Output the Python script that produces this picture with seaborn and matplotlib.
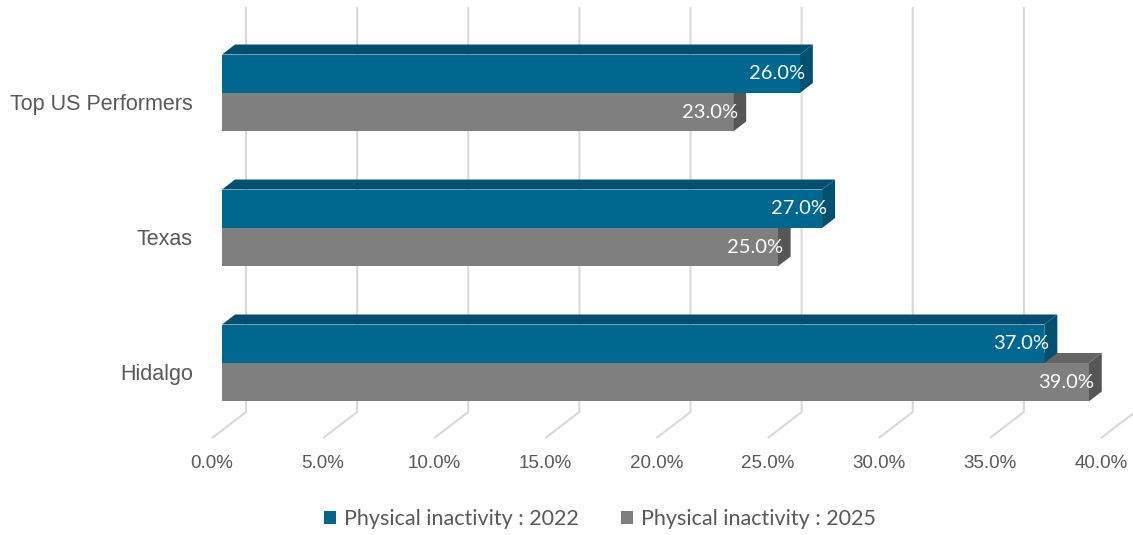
import matplotlib
matplotlib.use("Agg")
import matplotlib.pyplot as plt
import numpy as np
import pandas as pd
import seaborn as sns
from matplotlib.patches import Polygon, Patch, Rectangle
from matplotlib.transforms import ScaledTranslation

# ---- data ----
categories = ["Top US Performers", "Texas", "Hidalgo"]
series_names = ["Physical inactivity : 2022", "Physical inactivity : 2025"]
values_2022 = [26.0, 27.0, 37.0]
values_2025 = [23.0, 25.0, 39.0]
x_ticks = [0, 5, 10, 15, 20, 25, 30, 35, 40]
x_tick_labels = ["0.0%", "5.0%", "10.0%", "15.0%", "20.0%", "25.0%", "30.0%", "35.0%", "40.0%"]

front_colors = {series_names[0]: "#006890", series_names[1]: "#7f7f7f"}
top_colors = {series_names[0]: "#004f6e", series_names[1]: "#656565"}
side_colors = {series_names[0]: "#00506f", series_names[1]: "#565656"}

df = pd.DataFrame({
    "category": categories * 2,
    "series": [series_names[0]] * 3 + [series_names[1]] * 3,
    "value": values_2022 + values_2025,
})

sns.set_style("white")
plt.rcParams["font.family"] = ["Liberation Sans", "DejaVu Sans"]
W, H, DPI = 1133, 535, 100
fig = plt.figure(figsize=(W / DPI, H / DPI), dpi=DPI)

# axes: front plane of bars, 0% at px 222, 40% at px 1111; top px 7, bottom px 438
ax_left, ax_right, ax_top, ax_bot = 222, 1111, 7, 438
ax = fig.add_axes([ax_left / W, (H - ax_bot) / H, (ax_right - ax_left) / W, (ax_bot - ax_top) / H])

sns.barplot(data=df, x="value", y="category", hue="series", orient="h",
            order=categories, hue_order=series_names, palette=front_colors,
            width=0.57, errorbar=None, ax=ax, legend=False, linewidth=0, saturation=1)

xpx = (ax_right - ax_left) / 40.0   # px per data unit (x)
ypx = 135.0                         # px per category unit (y)
y0px = 93.0                         # px of category 0 centre
ax.set_xlim(0, 40)
ax.set_ylim((ax_bot - y0px) / ypx, (ax_top - y0px) / ypx)

# gridlines with 3D floor
back_dx = 24 / xpx
front_dx = -10 / xpx
y_back_floor = (412 - y0px) / ypx
y_front_floor = (ax_bot - y0px) / ypx
y_topg = (ax_top - y0px) / ypx
for v in x_ticks:
    ax.plot([v + back_dx, v + back_dx, v + front_dx],
            [y_topg, y_back_floor, y_front_floor],
            color="#d9d9d9", lw=1.5, zorder=0.5, clip_on=False, solid_capstyle="butt")

# 3D faces of bars
ddx = 13 / xpx
ddy = -10 / ypx
bars = [p for p in ax.patches if isinstance(p, Rectangle)]
for p in bars:
    fc = matplotlib.colors.to_hex(p.get_facecolor())
    series = series_names[0] if fc == front_colors[series_names[0]] else series_names[1]
    z = 3 if series == series_names[0] else 2
    x0 = p.get_x()
    x1 = x0 + p.get_width()
    yt = min(p.get_y(), p.get_y() + p.get_height())
    yb = max(p.get_y(), p.get_y() + p.get_height())
    top = Polygon([(x0, yt), (x1, yt), (x1 + ddx, yt + ddy), (x0 + ddx, yt + ddy)],
                  closed=True, facecolor=top_colors[series], edgecolor="none", zorder=z)
    side = Polygon([(x1, yt), (x1, yb), (x1 + ddx, yb + ddy), (x1 + ddx, yt + ddy)],
                   closed=True, facecolor=side_colors[series], edgecolor="none", zorder=z)
    ax.add_patch(top)
    ax.add_patch(side)
    p.set_zorder(z + 0.1)
    ax.text(x1 + 5 / xpx, (yt + yb) / 2, f"{x1:.1f}%", ha="right", va="center",
            color="white", fontsize=14.5, family=["Lato", "DejaVu Sans"], zorder=6)

# axes styling
for s in ax.spines.values():
    s.set_visible(False)
ax.set_xlabel("")
ax.set_ylabel("")
ax.set_xticks(x_ticks)
ax.set_xticklabels(x_tick_labels)
ax.tick_params(axis="x", length=0, pad=12, labelsize=13.5, labelcolor="#595959")
ax.tick_params(axis="y", length=0, pad=21, labelsize=15.5, labelcolor="#595959")
for lab in ax.get_xticklabels():
    lab.set_transform(lab.get_transform() + ScaledTranslation(-10 / DPI, 0, fig.dpi_scale_trans))
for lab in ax.get_yticklabels():
    lab.set_transform(lab.get_transform() + ScaledTranslation(0, -9 / DPI, fig.dpi_scale_trans))
ax.grid(False)

handles = [Patch(facecolor=front_colors[s], edgecolor="none") for s in series_names]
leg = fig.legend(handles, series_names, loc="center", bbox_to_anchor=(600 / W, 1 - 519 / H),
                 ncol=2, frameon=False, handlelength=0.55, handleheight=0.55,
                 handletextpad=0.35, columnspacing=2.0,
                 prop={"family": ["Lato", "DejaVu Sans"], "size": 15.5})
for t in leg.get_texts():
    t.set_color("#595959")

fig.savefig("out.png", dpi=DPI)
